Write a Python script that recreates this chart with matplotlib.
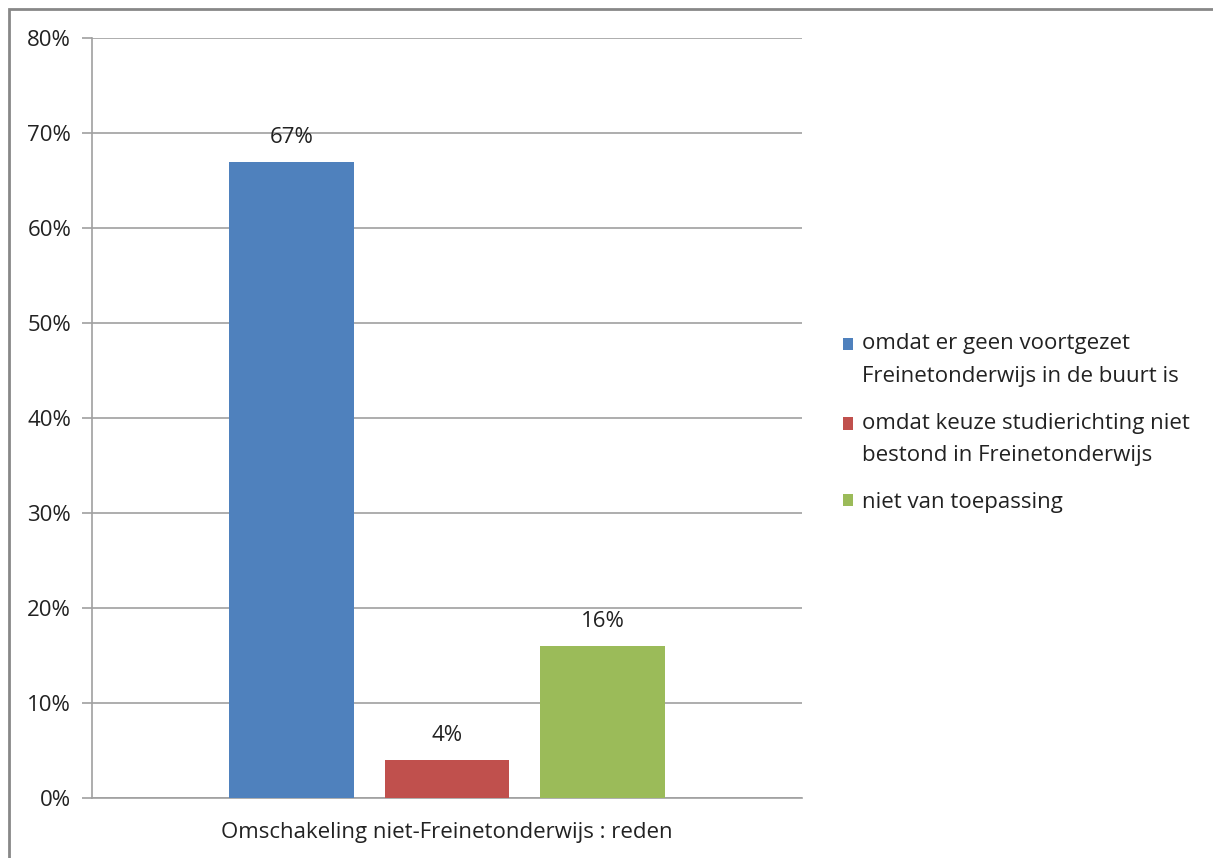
import matplotlib
matplotlib.use("Agg")
import matplotlib.pyplot as plt
from matplotlib.patches import Rectangle
from matplotlib.legend_handler import HandlerPatch

category = "Omschakeling niet-Freinetonderwijs : reden"
series = ["omdat er geen voortgezet\nFreinetonderwijs in de buurt is",
          "omdat keuze studierichting niet\nbestond in Freinetonderwijs",
          "niet van toepassing"]
values = [67, 4, 16]
colors = ["#4F81BD", "#C0504D", "#9BBB59"]
yticks = [0, 10, 20, 30, 40, 50, 60, 70, 80]

plt.rcParams['font.family'] = ['Open Sans', 'DejaVu Sans']

W, H = 1213, 858
FS = 16
fig = plt.figure(figsize=(W/100, H/100), dpi=100)
ax = fig.add_axes([92/W, 1-798/H, (802-92)/W, (798-38)/H])

positions = [-1, 0, 1]
handles = []
for p, v, c, s in zip(positions, values, colors, series):
    b = ax.bar(p, v, width=0.8, color=c, label=s, zorder=3)
    handles.append(b[0])
    ax.annotate(f"{v}%", (p, v), xytext=(0, 10), textcoords="offset points",
                ha="center", va="bottom", fontsize=FS, color="#222222")

ax.set_xlim(-2.283, 2.283)
ax.set_ylim(0, 80)
ax.set_yticks(yticks)
ax.set_yticklabels([f"{t}%" for t in yticks], fontsize=FS, color="#222222")
ax.yaxis.grid(True, color="#a0a0a0", linewidth=1.2, zorder=0)
ax.tick_params(axis="y", length=7, color="#a0a0a0", width=1.2, pad=8)
ax.set_xticks([0])
ax.set_xticklabels([category], fontsize=FS, color="#222222")
ax.tick_params(axis="x", length=0, pad=17)
for sp in ["top", "right"]:
    ax.spines[sp].set_visible(False)
for sp in ["left", "bottom"]:
    ax.spines[sp].set_color("#a0a0a0")
    ax.spines[sp].set_linewidth(1.2)


class TopHandler(HandlerPatch):
    def __init__(self, shift):
        super().__init__()
        self.shift = shift

    def create_artists(self, legend, orig_handle, xdescent, ydescent,
                       width, height, fontsize, trans):
        p = Rectangle((-xdescent, -ydescent + self.shift), width, height,
                      facecolor=orig_handle.get_facecolor(), edgecolor="none",
                      transform=trans)
        return [p]


hmap = {h: TopHandler(11.5 if "\n" in s else 0) for h, s in zip(handles, series)}
leg = fig.legend(handles=handles, labels=series, handler_map=hmap,
                 loc="upper left", bbox_to_anchor=(823/W, 1-313/H),
                 frameon=False, fontsize=FS, handlelength=0.47, handleheight=0.47,
                 handletextpad=0.4, labelspacing=1.17, labelcolor="#222222")
for t in leg.get_texts():
    t.set_linespacing(1.72)

fig.patches.append(Rectangle((9/W, -0.1), 1.2, (1-9/H)+0.1, transform=fig.transFigure,
                             fill=False, edgecolor="#888888", linewidth=2))

fig.savefig("out.png", dpi=100)
